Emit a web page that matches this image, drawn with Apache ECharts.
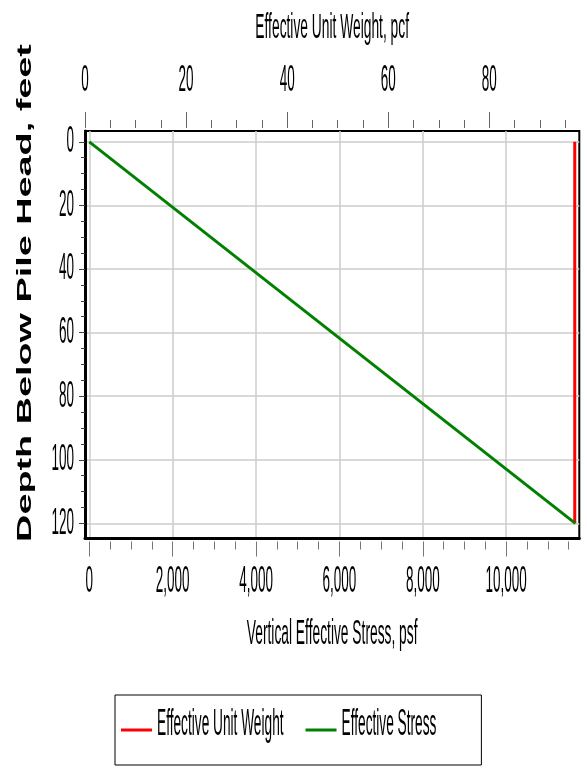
<!DOCTYPE html>
<html>
<head>
<meta charset="utf-8">
<script src="https://cdn.jsdelivr.net/npm/echarts@6/dist/echarts.min.js"></script>
<style>
html, body { margin: 0; padding: 0; background: #ffffff; }
#chart { width: 587px; height: 772px; }
</style>
</head>
<body>
<div id="chart"></div>
<script>
// ---- data ----
const depth = [0, 120];                 // feet below pile head
const unitWeight = [96.9, 96.9];        // effective unit weight, pcf
const effStress = [0, 11660];           // vertical effective stress, psf

const seriesNames = ['Effective Unit Weight', 'Effective Stress'];
const topTitle = 'Effective Unit Weight, pcf';
const bottomTitle = 'Vertical Effective Stress, psf';
const yTitle = 'Depth Below Pile Head, feet';

const stressTicks = [0, 2000, 4000, 6000, 8000, 10000];
const stressMinor = [500, 1000, 1500, 2500, 3000, 3500, 4500, 5000, 5500, 6500, 7000, 7500, 8500, 9000, 9500, 10500, 11000, 11500];
const weightTicks = [0, 20, 40, 60, 80];
const weightMinor = [5, 10, 15, 25, 30, 35, 45, 50, 55, 65, 70, 75, 85, 90, 95];
const depthTicks = [0, 20, 40, 60, 80, 100, 120];
const depthMinor = [5, 10, 15, 25, 30, 35, 45, 50, 55, 65, 70, 75, 85, 90, 95, 105, 110, 115];

const stressRange = [-103, 11755];
const weightRange = [0, 97.8];
const depthRange = [-3.4, 124.6];

// ---- build ----
const FONT = "'Liberation Sans', Arial, sans-serif";
const chart = echarts.init(document.getElementById('chart'), null, { renderer: 'canvas' });

const redData = depth.map((d, i) => [unitWeight[i], d]);
const greenData = depth.map((d, i) => [effStress[i], d]);

const noLine = { show: false, onZero: false };
const tickLabel = { color: '#000', fontSize: 13.5, fontFamily: FONT };

const option = {
  animation: false,
  backgroundColor: '#ffffff',
  textStyle: { fontFamily: FONT },
  grid: {
    left: 85, right: 7.7, top: 131, bottom: 234,
    show: true, borderColor: '#000', borderWidth: 2, backgroundColor: 'transparent',
    containLabel: false, outerBoundsMode: 'none'
  },
  graphic: [
    {
      type: 'text', x: 25.5, y: 293, rotation: Math.PI / 2, silent: true,
      style: {
        text: yTitle, fill: '#000',
        font: "bold 21px 'Liberation Sans', Arial, sans-serif",
        textAlign: 'center', textVerticalAlign: 'middle',
        align: 'center', verticalAlign: 'middle'
      }
    }
  ],
  legend: {
    left: 115, top: 695, orient: 'horizontal',
    data: seriesNames.map(n => ({ name: n, icon: 'rect' })),
    itemWidth: 31, itemHeight: 3, itemGap: 22,
    padding: [28, 45, 28, 6],
    borderColor: '#000', borderWidth: 1,
    selectedMode: false,
    textStyle: { color: '#000', fontSize: 13.7, fontFamily: FONT }
  },
  xAxis: [
    { // bottom major: stress
      type: 'value', position: 'bottom', min: stressRange[0], max: stressRange[1], offset: 3.5,
      axisLine: noLine,
      axisTick: { show: true, customValues: stressTicks, length: 15, lineStyle: { color: '#777', width: 1 } },
      axisLabel: Object.assign({ customValues: stressTicks, margin: 33,
        formatter: v => Number(v).toLocaleString('en-US') }, tickLabel),
      splitLine: { show: true, lineStyle: { color: '#cccccc', width: 1.5 } },
      name: bottomTitle, nameLocation: 'middle', nameGap: 86,
      nameTextStyle: { color: '#000', fontSize: 13.8, fontFamily: FONT }
    },
    { // bottom minor ticks
      type: 'value', position: 'bottom', min: stressRange[0], max: stressRange[1], offset: 3.5,
      axisLine: noLine,
      axisTick: { show: true, customValues: stressMinor, length: 8, lineStyle: { color: '#777', width: 1 } },
      axisLabel: { show: false }, splitLine: { show: false }
    },
    { // top major: unit weight
      type: 'value', position: 'top', min: weightRange[0], max: weightRange[1], offset: 3,
      axisLine: noLine,
      axisTick: { show: true, customValues: weightTicks, length: 16, lineStyle: { color: '#666', width: 1 } },
      axisLabel: Object.assign({ customValues: weightTicks, margin: 40 }, tickLabel),
      splitLine: { show: false },
      name: topTitle, nameLocation: 'middle', nameGap: 93,
      nameTextStyle: { color: '#000', fontSize: 13.8, fontFamily: FONT }
    },
    { // top minor ticks
      type: 'value', position: 'top', min: weightRange[0], max: weightRange[1], offset: 3,
      axisLine: noLine,
      axisTick: { show: true, customValues: weightMinor, length: 8, lineStyle: { color: '#666', width: 1 } },
      axisLabel: { show: false }, splitLine: { show: false }
    },
    { // thick bottom frame line
      type: 'value', position: 'bottom', min: stressRange[0], max: stressRange[1], offset: 0,
      axisLine: { show: true, onZero: false, lineStyle: { color: '#000', width: 3 } },
      axisTick: { show: false }, axisLabel: { show: false }, splitLine: { show: false }
    }
  ],
  yAxis: [
    {
      type: 'value', position: 'left', inverse: true, min: depthRange[0], max: depthRange[1],
      axisLine: { show: true, onZero: false, lineStyle: { color: '#000', width: 3 } },
      axisTick: { show: true, customValues: depthTicks, length: 6, lineStyle: { color: '#444', width: 1 } },
      axisLabel: Object.assign({ customValues: depthTicks, margin: 11 }, tickLabel),
      splitLine: { show: true, lineStyle: { color: '#cccccc', width: 1.5 } }
    },
    {
      type: 'value', position: 'left', inverse: true, min: depthRange[0], max: depthRange[1],
      axisLine: { show: false, onZero: false },
      axisTick: { show: true, customValues: depthMinor, length: 4, lineStyle: { color: '#444', width: 1 } },
      axisLabel: { show: false }, splitLine: { show: false }
    }
  ],
  series: [
    {
      name: seriesNames[0], type: 'line', xAxisIndex: 2, yAxisIndex: 0,
      data: redData, symbol: 'none', color: '#ff0000',
      lineStyle: { color: '#ff0000', width: 3 }
    },
    {
      name: seriesNames[1], type: 'line', xAxisIndex: 0, yAxisIndex: 0,
      data: greenData, symbol: 'none', color: '#008000',
      lineStyle: { color: '#008000', width: 3 }
    }
  ]
};

chart.setOption(option);

// The reference draws its texts vertically stretched (tall, narrow glyphs);
// mimic that by scaling the rendered text elements around their centres.
const SCALE_TICK = 2.8, SCALE_TITLE = 2.6, SCALE_LEGEND = 2.65, SCALE_YTITLE = 1.8;
const LEGEND_RAISE = 3; // legend text sits a little above its line
function stretchTexts() {
  const zr = chart.getZr();
  zr.storage.getRoots().forEach(root => {
    const visit = el => {
      if (el.type === 'text' && el.style && el.style.text != null && !el.__stretched) {
        const t = String(el.style.text);
        const r = el.getBoundingRect();
        el.originX = r.x + r.width / 2;
        el.originY = r.y + r.height / 2;
        if (t === yTitle) el.scaleX = SCALE_YTITLE;
        else if (/^[\d,]+$/.test(t)) el.scaleY = SCALE_TICK;
        else if (seriesNames.indexOf(t) >= 0) { el.originY += LEGEND_RAISE; el.scaleY = SCALE_LEGEND; }
        else el.scaleY = SCALE_TITLE;
        el.__stretched = true;
        el.markRedraw();
      }
      if (el.isGroup) el.eachChild(visit);
    };
    visit(root);
  });
  zr.refresh();
}
stretchTexts();
</script>
</body>
</html>
